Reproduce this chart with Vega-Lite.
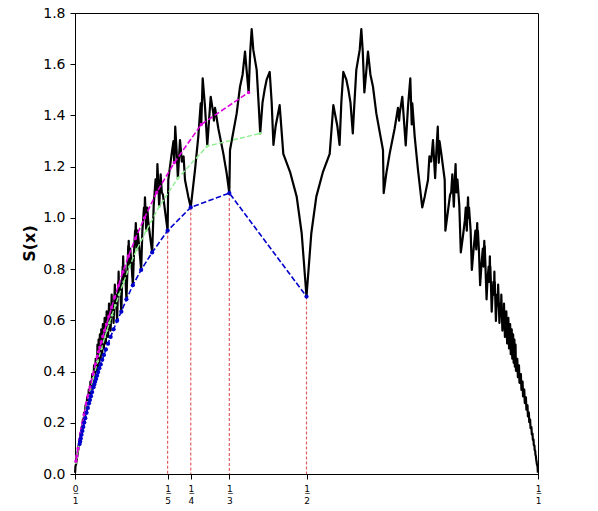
{
  "$schema": "https://vega.github.io/schema/vega-lite/v6.json",
  "width": 463,
  "height": 461,
  "autosize": "none",
  "padding": {"left": 75, "top": 13, "right": 60, "bottom": 37},
  "background": "white",
  "config": {
    "view": {"stroke": "black", "strokeWidth": 1},
    "axis": {"grid": false, "domainColor": "black", "tickColor": "black", "labelColor": "black", "titleColor": "black", "labelFont": "DejaVu Sans", "titleFont": "DejaVu Sans"}
  },
  "datasets": {
    "red": [{"x":0.2,"y":0.95},{"x":0.25,"y":1.041},{"x":0.33333,"y":1.097},{"x":0.5,"y":0.693}],
    "black": [
{"x":0.0002,"y":0.005},{"x":0.001,"y":0.03},{"x":0.0025,"y":0.039},{"x":0.00295,"y":0.046},{"x":0.004,"y":0.058},{"x":0.0045,"y":0.069},{"x":0.00556,"y":0.076},{"x":0.006,"y":0.09},{"x":0.00714,"y":0.093},{"x":0.0077,"y":0.111},{"x":0.00909,"y":0.113},{"x":0.0097,"y":0.135},{"x":0.01111,"y":0.133},{"x":0.0118,"y":0.158},{"x":0.01333,"y":0.154},{"x":0.0142,"y":0.183},{"x":0.01613,"y":0.179},{"x":0.017,"y":0.213},{"x":0.01887,"y":0.202},{"x":0.0197,"y":0.24},{"x":0.02174,"y":0.225},{"x":0.0227,"y":0.268},{"x":0.025,"y":0.251},{"x":0.0261,"y":0.299},{"x":0.02857,"y":0.277},{"x":0.0297,"y":0.33},{"x":0.03226,"y":0.303},{"x":0.0333,"y":0.361},{"x":0.03571,"y":0.328},{"x":0.037,"y":0.39},{"x":0.04,"y":0.356},{"x":0.0411,"y":0.424},{"x":0.04348,"y":0.378},{"x":0.0447,"y":0.45},
{"x":0.04762,"y":0.403},{"x":0.0485,"y":0.505},{"x":0.05,"y":0.419},{"x":0.05097,"y":0.525},{"x":0.05263,"y":0.434},{"x":0.05371,"y":0.545},{"x":0.05556,"y":0.45},{"x":0.05676,"y":0.565},{"x":0.05882,"y":0.468},{"x":0.06018,"y":0.585},{"x":0.06061,"y":0.512},{"x":0.0615,"y":0.55},
{"x":0.0625,"y":0.49},{"x":0.06403,"y":0.61},{"x":0.06452,"y":0.535},{"x":0.0655,"y":0.575},{"x":0.06667,"y":0.51},{"x":0.06841,"y":0.635},{"x":0.06897,"y":0.56},{"x":0.07,"y":0.6},{"x":0.07143,"y":0.535},{"x":0.07343,"y":0.665},{"x":0.07407,"y":0.59},{"x":0.0752,"y":0.63},{"x":0.07692,"y":0.56},{"x":0.07925,"y":0.7},{"x":0.08,"y":0.62},{"x":0.0813,"y":0.665},{"x":0.08333,"y":0.59},{"x":0.08607,"y":0.74},{"x":0.08696,"y":0.658},{"x":0.0885,"y":0.7},{"x":0.09091,"y":0.598},
{"x":0.0925,"y":0.7},{"x":0.0933,"y":0.75},{"x":0.09375,"y":0.735},{"x":0.0942,"y":0.79},{"x":0.0952,"y":0.7},{"x":0.0963,"y":0.75},{"x":0.098,"y":0.71},{"x":0.1,"y":0.634},
{"x":0.1018,"y":0.75},{"x":0.103,"y":0.81},{"x":0.1034,"y":0.79},{"x":0.104,"y":0.85},{"x":0.1053,"y":0.75},{"x":0.1066,"y":0.81},{"x":0.109,"y":0.76},{"x":0.1111,"y":0.682},
{"x":0.1133,"y":0.8},{"x":0.115,"y":0.89},{"x":0.1154,"y":0.85},{"x":0.116,"y":0.91},{"x":0.1168,"y":0.86},{"x":0.1176,"y":0.81},{"x":0.1192,"y":0.88},{"x":0.122,"y":0.82},{"x":0.125,"y":0.737},
{"x":0.1275,"y":0.87},{"x":0.1298,"y":0.95},{"x":0.1304,"y":0.92},{"x":0.1313,"y":0.98},{"x":0.1323,"y":0.93},{"x":0.1333,"y":0.877},{"x":0.1352,"y":0.95},{"x":0.139,"y":0.88},{"x":0.1429,"y":0.797},
{"x":0.1455,"y":0.95},{"x":0.149,"y":1.04},{"x":0.15,"y":1.0},{"x":0.1511,"y":1.08},{"x":0.1525,"y":1.02},{"x":0.1538,"y":0.95},{"x":0.156,"y":1.04},{"x":0.158,"y":0.99},{"x":0.162,"y":0.93},{"x":0.1667,"y":0.865},
{"x":0.17,"y":1.05},{"x":0.174,"y":1.15},{"x":0.1765,"y":1.1},{"x":0.178,"y":1.21},{"x":0.18,"y":1.13},{"x":0.1818,"y":1.044},{"x":0.185,"y":1.17},{"x":0.1875,"y":1.1},{"x":0.19,"y":1.09},{"x":0.195,"y":1.02},{"x":0.2,"y":0.95},
{"x":0.2015,"y":1.148},{"x":0.2089,"y":1.252},{"x":0.2127,"y":1.3},{"x":0.2143,"y":1.215},{"x":0.2165,"y":1.356},{"x":0.2195,"y":1.26},{"x":0.2222,"y":1.155},{"x":0.2268,"y":1.304},{"x":0.2308,"y":1.22},{"x":0.2345,"y":1.24},{"x":0.2376,"y":1.148},{"x":0.2447,"y":1.083},{"x":0.25,"y":1.041},
{"x":0.2592,"y":1.187},{"x":0.2663,"y":1.317},{"x":0.2715,"y":1.447},{"x":0.2727,"y":1.365},{"x":0.2758,"y":1.545},{"x":0.2808,"y":1.434},{"x":0.2857,"y":1.283},{"x":0.2931,"y":1.473},{"x":0.2987,"y":1.408},{"x":0.3,"y":1.38},{"x":0.3024,"y":1.43},{"x":0.3095,"y":1.35},{"x":0.3203,"y":1.252},{"x":0.3276,"y":1.174},{"x":0.3333,"y":1.097},
{"x":0.3348,"y":1.265},{"x":0.3492,"y":1.408},{"x":0.3564,"y":1.512},{"x":0.362,"y":1.56},{"x":0.3672,"y":1.649},{"x":0.371,"y":1.57},{"x":0.375,"y":1.49},{"x":0.3785,"y":1.65},{"x":0.3816,"y":1.737},{"x":0.3851,"y":1.656},{"x":0.3924,"y":1.578},{"x":0.3974,"y":1.42},{"x":0.4,"y":1.33},{"x":0.405,"y":1.45},{"x":0.4095,"y":1.5},{"x":0.414,"y":1.54},{"x":0.4205,"y":1.57},{"x":0.4248,"y":1.45},{"x":0.4286,"y":1.285},{"x":0.4335,"y":1.36},{"x":0.442,"y":1.44},{"x":0.4499,"y":1.25},{"x":0.4644,"y":1.18},{"x":0.4788,"y":1.083},{"x":0.4896,"y":0.94},{"x":0.5,"y":0.693},
{"x":0.5104,"y":0.94},{"x":0.5212,"y":1.083},{"x":0.5356,"y":1.18},{"x":0.5501,"y":1.25},{"x":0.558,"y":1.44},{"x":0.5665,"y":1.36},{"x":0.5714,"y":1.285},{"x":0.5752,"y":1.45},{"x":0.5795,"y":1.57},{"x":0.586,"y":1.54},{"x":0.5905,"y":1.5},{"x":0.595,"y":1.45},{"x":0.6,"y":1.33},{"x":0.6026,"y":1.42},{"x":0.6076,"y":1.578},{"x":0.6149,"y":1.656},{"x":0.6184,"y":1.737},{"x":0.6215,"y":1.65},{"x":0.625,"y":1.49},{"x":0.629,"y":1.57},{"x":0.6328,"y":1.649},{"x":0.638,"y":1.56},{"x":0.6436,"y":1.512},{"x":0.6508,"y":1.408},{"x":0.6652,"y":1.265},{"x":0.6667,"y":1.097},
{"x":0.6724,"y":1.174},{"x":0.6797,"y":1.252},{"x":0.6905,"y":1.35},{"x":0.6976,"y":1.43},{"x":0.7,"y":1.38},{"x":0.7013,"y":1.408},{"x":0.7069,"y":1.473},{"x":0.7143,"y":1.283},{"x":0.7192,"y":1.434},{"x":0.7242,"y":1.545},{"x":0.7273,"y":1.365},{"x":0.7285,"y":1.447},{"x":0.7337,"y":1.317},{"x":0.7408,"y":1.187},{"x":0.75,"y":1.041},
{"x":0.7553,"y":1.083},{"x":0.7624,"y":1.148},{"x":0.7655,"y":1.24},{"x":0.7692,"y":1.22},{"x":0.7732,"y":1.304},{"x":0.7778,"y":1.155},{"x":0.7805,"y":1.26},{"x":0.7835,"y":1.356},{"x":0.7857,"y":1.215},{"x":0.7873,"y":1.3},{"x":0.7911,"y":1.252},{"x":0.7985,"y":1.148},{"x":0.8,"y":0.95},
{"x":0.805,"y":1.02},{"x":0.81,"y":1.09},{"x":0.8125,"y":1.1},{"x":0.815,"y":1.17},{"x":0.8182,"y":1.044},{"x":0.82,"y":1.13},{"x":0.822,"y":1.21},{"x":0.8235,"y":1.1},{"x":0.826,"y":1.15},{"x":0.83,"y":1.05},{"x":0.8333,"y":0.865},
{"x":0.838,"y":0.93},{"x":0.842,"y":0.99},{"x":0.844,"y":1.04},{"x":0.8462,"y":0.95},{"x":0.8475,"y":1.02},{"x":0.8489,"y":1.08},{"x":0.85,"y":1.0},{"x":0.851,"y":1.04},{"x":0.8545,"y":0.95},{"x":0.8571,"y":0.797},
{"x":0.861,"y":0.88},{"x":0.8648,"y":0.95},{"x":0.8667,"y":0.877},{"x":0.8677,"y":0.93},{"x":0.8687,"y":0.98},{"x":0.8696,"y":0.92},{"x":0.8702,"y":0.95},{"x":0.8725,"y":0.87},{"x":0.875,"y":0.737},
{"x":0.878,"y":0.82},{"x":0.8808,"y":0.88},{"x":0.8824,"y":0.81},{"x":0.8832,"y":0.86},{"x":0.884,"y":0.91},{"x":0.8846,"y":0.85},{"x":0.885,"y":0.89},{"x":0.8867,"y":0.8},{"x":0.8889,"y":0.682},
{"x":0.891,"y":0.76},{"x":0.8934,"y":0.81},{"x":0.8947,"y":0.75},{"x":0.896,"y":0.85},{"x":0.8966,"y":0.79},{"x":0.897,"y":0.81},{"x":0.8982,"y":0.75},{"x":0.9,"y":0.634},
{"x":0.902,"y":0.71},{"x":0.9037,"y":0.75},{"x":0.9048,"y":0.7},{"x":0.9058,"y":0.79},{"x":0.90625,"y":0.735},{"x":0.9067,"y":0.75},{"x":0.9075,"y":0.7},{"x":0.90909,"y":0.598},
{"x":0.9115,"y":0.7},{"x":0.91304,"y":0.658},{"x":0.91393,"y":0.74},{"x":0.91667,"y":0.59},{"x":0.9187,"y":0.665},{"x":0.92,"y":0.62},{"x":0.92075,"y":0.7},{"x":0.92308,"y":0.56},{"x":0.9248,"y":0.63},{"x":0.92593,"y":0.59},{"x":0.92657,"y":0.665},{"x":0.92857,"y":0.535},{"x":0.93,"y":0.6},{"x":0.93103,"y":0.56},{"x":0.93159,"y":0.635},{"x":0.93333,"y":0.51},{"x":0.9345,"y":0.575},{"x":0.93548,"y":0.535},{"x":0.93597,"y":0.61},{"x":0.9375,"y":0.49},
{"x":0.9385,"y":0.55},{"x":0.93939,"y":0.512},{"x":0.93982,"y":0.585},{"x":0.94118,"y":0.468},{"x":0.94324,"y":0.565},{"x":0.94444,"y":0.45},{"x":0.94629,"y":0.545},{"x":0.94737,"y":0.434},{"x":0.94903,"y":0.525},{"x":0.95,"y":0.419},{"x":0.9515,"y":0.505},{"x":0.95238,"y":0.403},
{"x":0.9553,"y":0.45},{"x":0.95652,"y":0.378},{"x":0.9589,"y":0.424},{"x":0.96,"y":0.356},{"x":0.963,"y":0.39},{"x":0.96429,"y":0.328},{"x":0.9667,"y":0.361},{"x":0.96774,"y":0.303},{"x":0.9703,"y":0.33},{"x":0.97143,"y":0.277},{"x":0.9739,"y":0.299},{"x":0.975,"y":0.251},{"x":0.9773,"y":0.268},{"x":0.97826,"y":0.225},{"x":0.9803,"y":0.24},{"x":0.98113,"y":0.202},{"x":0.983,"y":0.213},{"x":0.98387,"y":0.179},{"x":0.9858,"y":0.183},{"x":0.98667,"y":0.154},{"x":0.9882,"y":0.158},{"x":0.98889,"y":0.133},{"x":0.9903,"y":0.135},{"x":0.99091,"y":0.113},{"x":0.9923,"y":0.111},{"x":0.99286,"y":0.093},{"x":0.994,"y":0.09},{"x":0.99444,"y":0.076},{"x":0.9955,"y":0.069},{"x":0.996,"y":0.058},{"x":0.99705,"y":0.046},{"x":0.9975,"y":0.039},{"x":0.999,"y":0.03},{"x":0.9998,"y":0.005}
    ],
    "green": [
{"x":0.4,"y":1.33},{"x":0.28571,"y":1.28},{"x":0.22222,"y":1.155},{"x":0.18182,"y":1.044},{"x":0.15385,"y":0.95},{"x":0.13333,"y":0.877},{"x":0.11765,"y":0.81},{"x":0.10526,"y":0.75},{"x":0.09524,"y":0.7},{"x":0.08696,"y":0.658},{"x":0.08,"y":0.62},{"x":0.07407,"y":0.59},{"x":0.06897,"y":0.56},{"x":0.06452,"y":0.535},{"x":0.05714,"y":0.49},{"x":0.04878,"y":0.44},{"x":0.03922,"y":0.373},{"x":0.03279,"y":0.326},{"x":0.02469,"y":0.263},{"x":0.0198,"y":0.221},{"x":0.01418,"y":0.165},{"x":0.00995,"y":0.129},{"x":0.00664,"y":0.095},{"x":0.004,"y":0.065},{"x":0.002,"y":0.045}
    ],
    "magenta": [
{"x":0.375,"y":1.49},{"x":0.27273,"y":1.365},{"x":0.21429,"y":1.215},{"x":0.17647,"y":1.1},{"x":0.15,"y":1.0},{"x":0.13043,"y":0.92},{"x":0.11538,"y":0.85},{"x":0.10345,"y":0.79},{"x":0.09375,"y":0.735},{"x":0.08571,"y":0.69},{"x":0.07895,"y":0.65},{"x":0.07317,"y":0.615},{"x":0.06818,"y":0.585},{"x":0.06383,"y":0.56},{"x":0.06,"y":0.537},{"x":0.0566,"y":0.515},{"x":0.05357,"y":0.495},{"x":0.05085,"y":0.477},{"x":0.04839,"y":0.46},{"x":0.04412,"y":0.43},{"x":0.03896,"y":0.39},{"x":0.03261,"y":0.34},{"x":0.02804,"y":0.305},{"x":0.02459,"y":0.276},{"x":0.01974,"y":0.232},{"x":0.01648,"y":0.2},{"x":0.01415,"y":0.176},{"x":0.0124,"y":0.16},{"x":0.00993,"y":0.135},{"x":0.00664,"y":0.1},{"x":0.00399,"y":0.07},{"x":0.002,"y":0.05}
    ],
    "blue": [
{"x":0.5,"y":0.693},{"x":0.33333,"y":1.097},{"x":0.25,"y":1.041},{"x":0.2,"y":0.95},{"x":0.16667,"y":0.865},{"x":0.14286,"y":0.797},{"x":0.125,"y":0.737},{"x":0.11111,"y":0.682},{"x":0.1,"y":0.634},{"x":0.09091,"y":0.598},{"x":0.08333,"y":0.565},{"x":0.07692,"y":0.535},{"x":0.07143,"y":0.509},{"x":0.06667,"y":0.486},{"x":0.0625,"y":0.465},{"x":0.05882,"y":0.446},{"x":0.05556,"y":0.428},{"x":0.05263,"y":0.413},{"x":0.05,"y":0.398},{"x":0.04762,"y":0.384},{"x":0.04545,"y":0.371},{"x":0.04348,"y":0.36},{"x":0.04167,"y":0.349},{"x":0.04,"y":0.339},{"x":0.03704,"y":0.32},{"x":0.03448,"y":0.304},{"x":0.03226,"y":0.289},{"x":0.0303,"y":0.276},{"x":0.02778,"y":0.258},{"x":0.025,"y":0.239},{"x":0.02222,"y":0.218},{"x":0.02,"y":0.201},{"x":0.01786,"y":0.184},{"x":0.01587,"y":0.168},{"x":0.01408,"y":0.153},{"x":0.0125,"y":0.139},{"x":0.01111,"y":0.127},{"x":0.01,"y":0.117}
    ]
  },
  "encoding": {
    "x": {"field": "x", "type": "quantitative", "scale": {"domain": [0, 1], "nice": false, "zero": false},
      "axis": {"title": null, "values": [0, 0.2, 0.25, 0.333333, 0.5, 1], "tickSize": 5, "labelPadding": 5, "labelFontSize": 9, "labelLineHeight": 12, "labelFlush": false, "labelOverlap": false,
        "labelExpr": "datum.value == 0 ? ['0\u0332','1'] : datum.value == 0.2 ? ['1\u0332','5'] : datum.value == 0.25 ? ['1\u0332','4'] : datum.value < 0.4 ? ['1\u0332','3'] : datum.value == 0.5 ? ['1\u0332','2'] : ['1\u0332','1']"}},
    "y": {"field": "y", "type": "quantitative", "scale": {"domain": [0, 1.8], "nice": false},
      "axis": {"title": "S(x)", "values": [0, 0.2, 0.4, 0.6, 0.8, 1.0, 1.2, 1.4, 1.6, 1.8], "format": ".1f", "tickSize": 5, "labelPadding": 5, "labelFontSize": 14, "labelFlush": false, "labelOverlap": false,
        "titleFontSize": 16, "titleFontWeight": "bold", "titleX": -46, "titleY": 230, "titleAngle": -90, "titleAlign": "center", "titleBaseline": "middle"}}
  },
  "layer": [
    {"data": {"name": "red"}, "mark": {"type": "rule", "color": "#e06060", "strokeWidth": 1.2, "strokeDash": [3, 2]},
     "encoding": {"y2": {"datum": 0}}},
    {"data": {"name": "black"}, "mark": {"type": "line", "color": "black", "strokeWidth": 2.2, "strokeJoin": "round"}},
    {"data": {"name": "green"}, "mark": {"type": "line", "color": "#90ee90", "strokeWidth": 1.4, "strokeDash": [5, 2.2]}},
    {"data": {"name": "green"}, "mark": {"type": "point", "filled": true, "color": "#90ee90", "size": 8, "opacity": 1}},
    {"data": {"name": "magenta"}, "mark": {"type": "line", "color": "#dd00dd", "strokeWidth": 1.6, "strokeDash": [5.5, 2.4]}},
    {"data": {"name": "magenta"}, "mark": {"type": "point", "filled": true, "color": "#dd00dd", "size": 12, "opacity": 1}},
    {"data": {"name": "blue"}, "mark": {"type": "line", "color": "#0000cd", "strokeWidth": 1.6, "strokeDash": [5.5, 2.4]}},
    {"data": {"name": "blue"}, "mark": {"type": "point", "filled": true, "color": "#0000cd", "size": 18, "opacity": 1}}
  ]
}
